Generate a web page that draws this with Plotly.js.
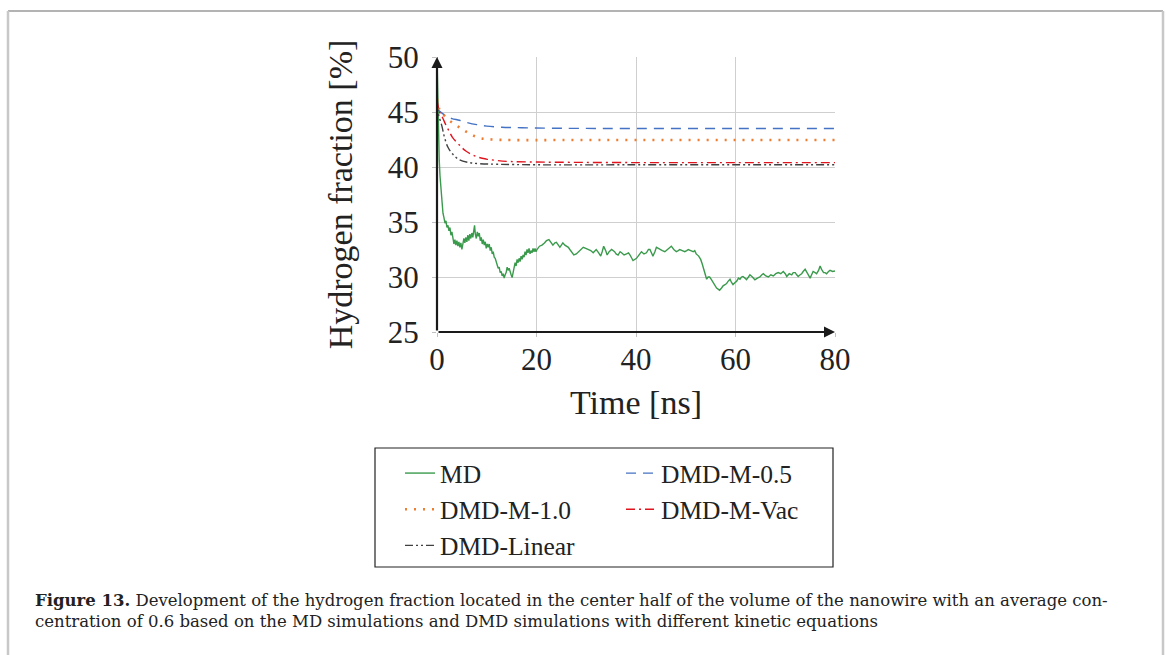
<!DOCTYPE html>
<html>
<head>
<meta charset="utf-8">
<script src="https://cdn.plot.ly/plotly-3.0.1.min.js"></script>
<style>
html,body{margin:0;padding:0;background:#fff;}
#chart{width:1167px;height:655px;}
</style>
</head>
<body>
<div id="chart"></div>
<script>
// ---- Data ----
const mdTime = [0,0.1,0.2,0.3,0.45,0.6,0.8,1.0,1.2,1.4,1.6,1.8,2.0,
2.2,2.4,2.6,2.8,3.0,3.2,3.4,3.6,3.8,4.0,4.2,4.4,4.6,4.8,5.0,5.2,5.4,5.6,5.8,6.0,6.2,6.4,6.6,6.8,7.0,7.2,7.4,7.55,7.7,7.9,
8.1,8.3,8.5,8.7,8.9,9.1,9.3,9.5,9.7,9.9,10.1,10.3,10.5,10.7,10.9,11.1,11.3,11.5,11.7,11.9,12.1,12.3,12.5,12.7,12.9,13.1,13.3,13.5,13.7,13.9,
14.1,14.3,14.5,14.7,14.9,15.1,15.3,15.5,15.7,15.9,16.1,16.3,16.5,16.7,16.9,17.1,17.3,17.5,17.7,17.9,18.1,18.3,18.5,18.7,18.9,19.1,19.3,19.5,19.7,19.9,20.1,
20.6,21.1,21.6,22.0,22.5,22.9,23.3,23.7,24.0,24.4,24.7,25.0,25.3,25.7,26.0,26.4,26.7,27.1,27.5,28.0,28.4,28.9,29.4,29.9,30.4,30.9,31.4,32.0,32.5,32.9,
33.2,33.5,33.9,34.2,34.6,35.1,35.7,36.0,36.4,36.8,37.1,37.6,38.1,38.5,38.8,39.4,40.1,40.6,41.1,41.6,42.1,42.5,42.8,43.1,43.4,43.8,44.1,44.5,44.8,45.3,
45.8,46.1,46.4,46.8,47.1,47.6,48.1,48.5,48.8,49.3,49.8,50.2,50.5,51.0,51.5,51.8,52.1,52.6,53.0,53.3,53.6,53.9,54.2,54.5,54.8,55.1,55.5,55.9,56.2,56.5,
56.8,57.2,57.5,57.9,58.2,58.5,58.9,59.2,59.5,59.9,60.2,60.6,60.9,61.2,61.5,61.9,62.2,62.6,62.9,63.4,63.9,64.4,64.9,65.3,65.6,66.1,66.6,67.1,67.6,68.1,
68.6,69.1,69.6,70.0,70.3,70.8,71.3,71.6,72.0,72.3,72.6,73.0,73.3,73.6,74.0,74.5,75.0,75.3,75.6,76.0,76.3,76.7,77.0,77.3,77.7,78.0,78.3,78.7,79.0,79.5,80.0];
const mdValues = [50,47.2,44.8,42.6,40.6,39.2,37.8,36.6,35.8,35.4,34.9,35.1,34.5,
34.7,34.2,34.5,33.8,34.1,33.5,33.0,33.4,32.9,33.3,32.8,33.2,32.7,33.1,32.5,33.0,33.5,33.1,33.6,33.2,33.8,33.3,33.9,33.5,34.0,33.6,34.3,34.7,33.9,33.5,
34.1,33.7,34.0,33.3,33.6,33.0,33.4,32.9,33.2,32.6,33.0,32.7,33.0,32.4,32.7,32.1,32.3,31.8,31.7,31.3,31.2,30.8,30.9,30.4,30.5,30.1,30.3,29.9,30.2,30.4,
30.9,30.6,30.8,30.4,30.2,29.95,30.5,30.9,31.3,31.0,31.6,31.3,31.7,31.4,31.9,31.6,32.0,31.8,32.3,32.0,32.5,32.2,32.6,32.1,32.4,32.2,32.6,32.3,32.6,32.3,32.5,
32.8,32.9,33.1,33.3,33.4,33.2,32.9,33.1,33.15,32.9,32.7,32.9,33.1,32.9,32.8,32.7,32.5,32.2,32.0,32.1,32.3,32.5,32.7,32.6,32.5,32.4,32.2,32.5,32.2,31.9,
32.3,32.8,32.4,32.0,32.3,32.5,32.3,32.1,32.0,32.3,32.2,32.0,32.1,32.2,32.0,31.5,31.7,32.0,32.3,32.1,32.2,32.5,32.5,32.2,31.9,32.3,32.7,32.6,32.5,32.4,
32.3,32.4,32.5,32.7,32.8,32.5,32.3,32.4,32.5,32.4,32.3,32.4,32.5,32.4,32.3,32.4,32.1,31.9,31.6,31.2,30.7,30.2,29.8,30.0,30.0,29.8,29.5,29.2,29.0,28.9,
28.8,29.0,29.2,29.3,29.4,29.6,29.8,29.5,29.3,29.5,29.6,29.9,29.8,30.0,30.05,29.9,29.75,30.0,30.2,30.0,29.75,29.9,30.0,30.2,30.3,30.1,30.0,30.2,30.1,30.3,
30.4,30.3,30.5,30.3,30.05,30.3,30.2,30.4,30.4,30.2,30.05,30.2,30.3,30.5,30.7,30.3,29.9,30.2,30.5,30.4,30.3,30.6,31.0,30.7,30.4,30.4,30.3,30.5,30.6,30.5,30.55];

const m05Time   = [0,1,2,3,4.5,6,8,10,13,17,25,40,60,80];
const m05Values = [45.3,44.9,44.6,44.4,44.25,44.05,43.85,43.72,43.62,43.57,43.52,43.5,43.5,43.5];

const m10Time   = [0,0.5,1.2,2.4,3.7,5,6.3,7.6,9,11,15,25,40,60,80];
const m10Values = [46.2,45.2,44.8,44.25,43.85,43.45,43.1,42.8,42.6,42.5,42.45,42.45,42.45,42.45,42.45];

const vacTime   = [0,0.5,1.1,1.8,2.5,3.1,4.5,5.8,7.9,9.9,11.9,14.6,20,40,60,80];
const vacValues = [46.2,45.0,44.5,43.8,43.2,42.7,42.0,41.45,40.95,40.72,40.6,40.5,40.45,40.4,40.4,40.4];

const linTime   = [0,0.3,1.0,1.5,2.2,3.1,4.5,6.5,8.5,12,20,40,60,80];
const linValues = [45.8,44.8,43.7,42.7,41.8,41.2,40.65,40.4,40.3,40.25,40.2,40.2,40.2,40.2];

const xTicks = [0,20,40,60,80];
const yTicks = [25,30,35,40,45,50];
const seriesNames = ['MD','DMD-M-0.5','DMD-M-1.0','DMD-M-Vac','DMD-Linear'];
const captionBold = 'Figure 13.';
const captionLine1 = ' Development of the hydrogen fraction located in the center half of the volume of the nanowire with an average con-';
const captionLine2 = 'centration of 0.6 based on the MD simulations and DMD simulations with different kinetic equations';

// ---- Drawing ----
const serif = 'Liberation Serif, Times New Roman, serif';
const capFont = 'DejaVu Serif, serif';
const W = 1167, H = 655;
const L = 437, R = 332, T = 57, B = 323;
const pw = W - L - R, ph = H - T - B;
const px = v => (v - L) / pw;            // pixel -> paper x
const py = v => (H - B - v) / ph;        // pixel -> paper y

const traces = [
  {x: mdTime, y: mdValues, name: seriesNames[0], mode: 'lines', legend: 'legend',
   line: {color: '#3a9a4c', width: 1.4}},
  {x: m05Time, y: m05Values, name: seriesNames[1], mode: 'lines', legend: 'legend2', line: {shape: 'spline',
   color: '#4472c4', width: 1.4, dash: '10px,7px'}},
  {x: m10Time, y: m10Values, name: seriesNames[2], mode: 'lines', legend: 'legend', line: {shape: 'spline',
   color: '#ed7d31', width: 2.6, dash: '2px,7px'}},
  {x: vacTime, y: vacValues, name: seriesNames[3], mode: 'lines', legend: 'legend2', line: {shape: 'spline',
   color: '#e0141e', width: 1.4, dash: '9px,4px,2px,4px'}},
  {x: linTime, y: linValues, name: seriesNames[4], mode: 'lines', legend: 'legend', line: {shape: 'spline',
   color: '#404040', width: 1.4, dash: '8px,3px,2px,3px,2px,3px'}}
];

const axisCommon = {
  showgrid: true, gridcolor: '#cfcfcf', gridwidth: 1,
  zeroline: false, showline: false,
  ticks: 'outside', ticklen: 4, tickcolor: '#c0c0c0',
  tickfont: {family: serif, size: 31, color: '#222'},
  fixedrange: true
};

const layout = {
  width: W, height: H,
  margin: {l: L, r: R, t: T, b: B},
  paper_bgcolor: '#ffffff', plot_bgcolor: '#ffffff',
  font: {family: serif, color: '#222'},
  showlegend: true,
  xaxis: Object.assign({}, axisCommon, {
    range: [0, 80], tickvals: xTicks, ticklabelstandoff: -4,
    title: {text: 'Time [ns]', font: {family: serif, size: 34, color: '#222'}, standoff: 13}
  }),
  yaxis: Object.assign({}, axisCommon, {
    range: [25, 50], tickvals: yTicks, ticklabelstandoff: 7,
    title: {text: 'Hydrogen fraction [%]', font: {family: serif, size: 34, color: '#222'}, standoff: 24}
  }),
  legend: {x: px(400), y: py(450), xanchor: 'left', yanchor: 'top', orientation: 'v',
    bgcolor: 'rgba(0,0,0,0)', borderwidth: 0, font: {family: serif, size: 25.5, color: '#222'}},
  legend2: {x: px(621), y: py(450), xanchor: 'left', yanchor: 'top', orientation: 'v',
    bgcolor: 'rgba(0,0,0,0)', borderwidth: 0, font: {family: serif, size: 25.5, color: '#222'}},
  shapes: [
    // legend box
    {type: 'rect', xref: 'paper', yref: 'paper', x0: px(375), x1: px(833), y0: py(567), y1: py(448),
     line: {color: '#222', width: 1.2}, fillcolor: 'rgba(0,0,0,0)'},
    // page frame
    {type: 'line', xref: 'paper', yref: 'paper', x0: px(8), x1: px(1163), y0: py(11), y1: py(11),
     line: {color: '#9a9a9a', width: 1.5}},
    {type: 'line', xref: 'paper', yref: 'paper', x0: px(8), x1: px(8), y0: py(11), y1: py(660),
     line: {color: '#c8c8c8', width: 2.5}},
    {type: 'line', xref: 'paper', yref: 'paper', x0: px(1163), x1: px(1163), y0: py(11), y1: py(660),
     line: {color: '#c8c8c8', width: 2.5}}
  ],
  annotations: [
    {x: 0, y: 50, ax: 0, ay: 25, xref: 'x', yref: 'y', axref: 'x', ayref: 'y', text: '',
     showarrow: true, arrowhead: 2, arrowsize: 1, arrowwidth: 2.2, arrowcolor: '#1a1a1a', standoff: 0, startstandoff: 0},
    {x: 80, y: 25, ax: 0, ay: 25, xref: 'x', yref: 'y', axref: 'x', ayref: 'y', text: '',
     showarrow: true, arrowhead: 2, arrowsize: 1, arrowwidth: 2.2, arrowcolor: '#1a1a1a', standoff: 0, startstandoff: 0},
    {xref: 'paper', yref: 'paper', x: px(33), y: py(589), xanchor: 'left', yanchor: 'top', align: 'left',
     showarrow: false, font: {family: capFont, size: 16.5, color: '#222'},
     text: '<b>' + captionBold + '</b>' + captionLine1 + '<br>' + captionLine2}
  ]
};

Plotly.newPlot('chart', traces, layout, {displayModeBar: false, staticPlot: true});
</script>
</body>
</html>
